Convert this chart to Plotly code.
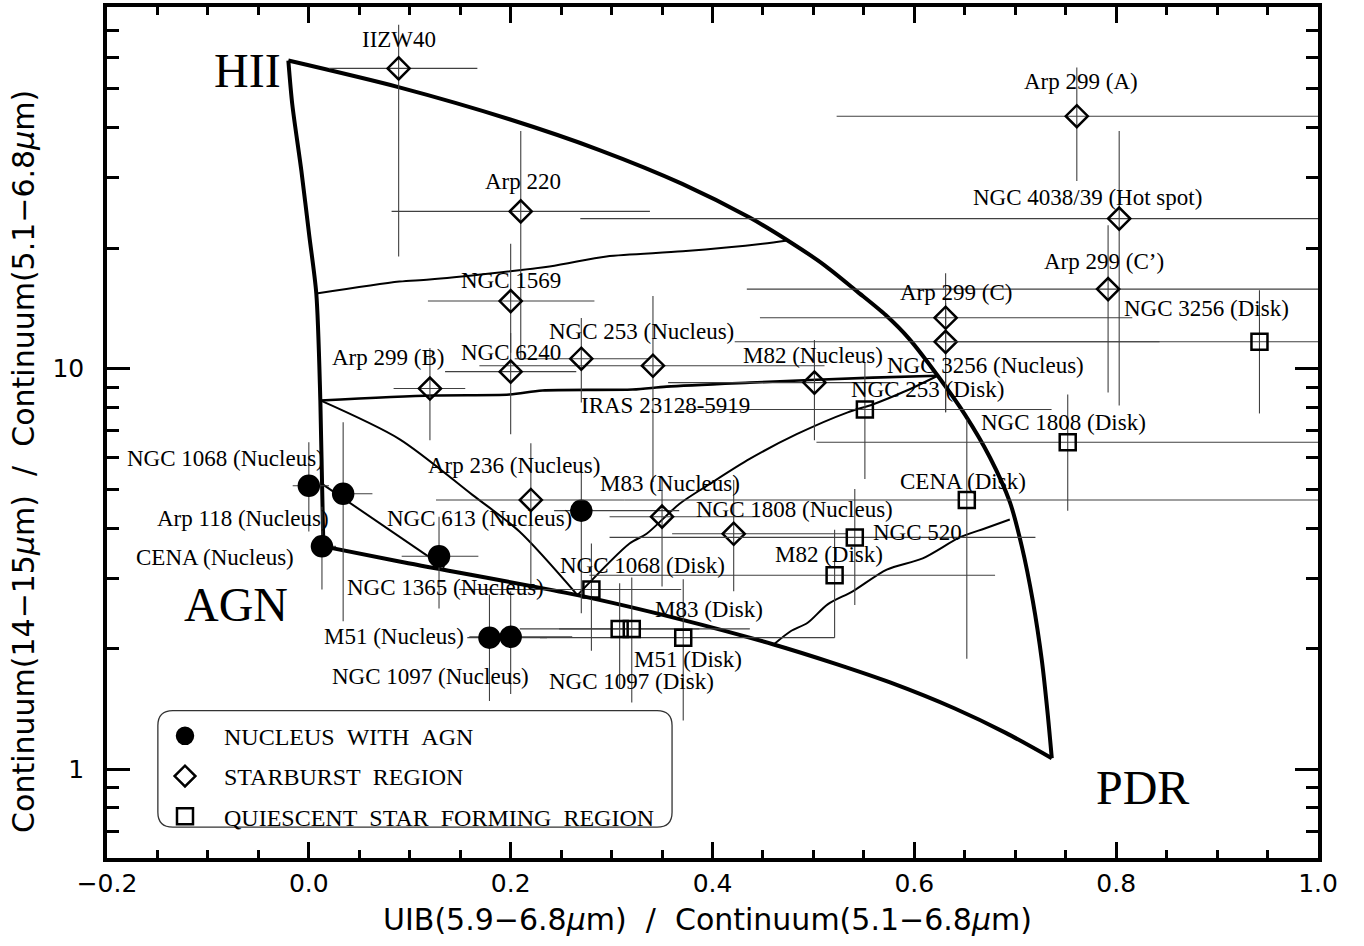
import numpy as np
import plotly.graph_objects as go

# ---------------- data ----------------
# Nuclei with AGN (filled circles)
agn_names = ["NGC 1068 (Nucleus)", "Arp 118 (Nucleus)", "CENA (Nucleus)", "NGC 1365 (Nucleus)",
             "NGC 613 (Nucleus)", "M51 (Nucleus)", "NGC 1097 (Nucleus)"]
agn_x = [0.000, 0.034, 0.013, 0.129, 0.270, 0.179, 0.200]
agn_y = [5.10, 4.87, 3.60, 3.40, 4.42, 2.13, 2.14]
agn_xlo = [-0.016, 0.023, 0.004, 0.092, 0.243, 0.157, 0.159]
agn_xhi = [0.020, 0.063, 0.027, 0.168, 0.367, 0.236, 0.261]
agn_ylo = [3.92, 2.34, 2.81, 2.52, 2.45, 1.48, 1.54]
agn_yhi = [6.55, 7.35, 4.52, 4.27, 5.68, 2.73, 2.78]

# Starburst regions (open diamonds)
sb_names = ["IIZW40", "Arp 220", "NGC 1569", "NGC 6240", "Arp 299 (B)", "NGC 253 (Nucleus)",
            "IRAS 23128-5919", "M82 (Nucleus)", "Arp 236 (Nucleus)", "M83 (Nucleus)",
            "NGC 1808 (Nucleus)", "Arp 299 (A)", "NGC 4038/39 (Hot spot)", "Arp 299 (C\u2019)",
            "Arp 299 (C)", "NGC 3256 (Nucleus)"]
sb_x = [0.089, 0.210, 0.200, 0.200, 0.120, 0.270, 0.341, 0.501, 0.220, 0.350, 0.421,
        0.761, 0.803, 0.792, 0.631, 0.631]
sb_y = [56.2, 24.7, 14.75, 9.83, 8.92, 10.59, 10.17, 9.23, 4.70, 4.27, 3.87,
        42.7, 23.7, 15.8, 13.4, 11.67]
sb_xlo = [0.020, 0.082, 0.118, 0.135, 0.084, 0.204, 0.169, 0.356, 0.126, 0.298, 0.360,
          0.523, 0.269, 0.434, 0.447, 0.422]
sb_xhi = [0.167, 0.338, 0.283, 0.265, 0.155, 0.337, 0.511, 0.576, 0.313, 0.447, 0.533,
          1.0, 1.0, 1.0, 0.816, 0.843]
sb_ylo = [19.07, 10.53, 10.96, 6.86, 6.63, 8.23, 5.21, 6.63, 2.89, 2.86, 2.78,
          29.4, 8.09, 8.72, 7.78, 7.78]
sb_yhi = [72.2, 39.2, 20.5, 12.28, 11.27, 13.39, 15.18, 11.8, 6.51, 5.36, 5.27,
          56.5, 39.2, 22.8, 17.3, 14.58]

# Quiescent star forming regions (open squares)
qs_names = ["NGC 3256 (Disk)", "NGC 253 (Disk)", "NGC 1808 (Disk)", "CENA (Disk)", "NGC 520",
            "M82 (Disk)", "NGC 1068 (Disk)", "M83 (Disk)", "NGC 1097 (Disk)", "M51 (Disk)"]
qs_x = [0.942, 0.551, 0.752, 0.652, 0.541, 0.521, 0.280, 0.308, 0.320, 0.371]
qs_y = [11.67, 7.91, 6.55, 4.70, 3.79, 3.05, 2.81, 2.24, 2.24, 2.13]
qs_xlo = [0.625, 0.367, 0.503, 0.313, 0.298, 0.278, 0.149, 0.209, 0.248, 0.229]
qs_xhi = [1.0, 0.736, 1.0, 1.0, 0.720, 0.680, 0.369, 0.437, 0.387, 0.521]
qs_ylo = [7.73, 5.30, 4.42, 1.886, 2.57, 2.13, 1.974, 1.589, 1.466, 1.323]
qs_yhi = [15.7, 10.35, 8.62, 7.47, 5.01, 3.96, 3.66, 2.91, 3.01, 2.98]

# Model diagram curves
hii_agn_x = [-0.0203, -0.0164, -0.0074, 0.0005, 0.0074, 0.0114, 0.0144]
hii_agn_y = [58.8, 45.7, 31.2, 21.4, 15.4, 8.33, 3.60]
hii_pdr_x = [-0.0203, 0.0897, 0.1988, 0.288, 0.370, 0.4368, 0.4745, 0.5111, 0.5429, 0.5716,
             0.5949, 0.6232, 0.650, 0.6748, 0.6946, 0.7065, 0.7174, 0.7264, 0.7323, 0.7362]
hii_pdr_y = [58.8, 50.4, 41.96, 35.15, 28.94, 23.84, 20.90, 18.12, 15.62, 13.61,
             11.87, 9.6, 7.69, 6.01, 4.65, 3.60, 2.63, 1.864, 1.361, 1.065]
agn_pdr_x = [0.0144, 0.0897, 0.2662, 0.3674, 0.4606, 0.5221, 0.5766, 0.6401, 0.6906, 0.7362]
agn_pdr_y = [3.60, 3.30, 2.72, 2.37, 2.048, 1.832, 1.644, 1.417, 1.232, 1.065]

upper_mix_x = [0.0074, 0.0897, 0.1195, 0.2385, 0.295, 0.3704, 0.4497, 0.4745]
upper_mix_y = [15.4, 16.5, 16.7, 18.0, 19.07, 19.63, 20.5, 20.9]
mid_mix_x = [0.0114, 0.1225, 0.1988, 0.2315, 0.3208, 0.3545, 0.4368, 0.5587, 0.6232]
mid_mix_y = [8.33, 8.57, 8.62, 8.82, 8.87, 9.02, 9.23, 9.50, 9.6]
diag_mix_x = [0.0114, 0.0897, 0.1621, 0.2087, 0.2662]
diag_mix_y = [8.33, 6.67, 4.84, 3.92, 2.72]
rise_mix_x = [0.2662, 0.3178, 0.3347, 0.3674, 0.3971, 0.4368, 0.4834, 0.534, 0.5587, 0.5925, 0.6232]
rise_mix_y = [2.72, 3.66, 3.87, 4.60, 5.15, 5.95, 6.86, 7.78, 8.14, 8.82, 9.6]
agn_mix_x = [0.0134, 0.1343]
agn_mix_y = [5.15, 3.19]
low_mix_x = [0.4606, 0.4774, 0.4943, 0.5141, 0.5389, 0.5727, 0.6083, 0.645, 0.6698, 0.6946]
low_mix_y = [2.048, 2.21, 2.32, 2.58, 2.78, 3.15, 3.36, 3.79, 3.99, 4.20]

# Region labels
region_names = ["HII", "AGN", "PDR"]
region_x = [-0.061, -0.072, 0.826]
region_y = [55.5, 2.57, 0.902]

# Axis ticks
x_tick_vals = [-0.2, 0.0, 0.2, 0.4, 0.6, 0.8, 1.0]
y_tick_vals = [1, 10]
y_minor_vals = [0.7, 0.8, 0.9, 2, 3, 4, 5, 6, 7, 8, 9, 20, 30, 40, 50, 60, 70]

# ---------------- styling (label offsets in px) ----------------
agn_off = [(-83, 27), (-100, -25), (-107, -11), (6, -31), (-102, -8), (-95, 1), (-80, -40)]
sb_off = [(0, 29), (2, 30), (0, 21), (0, 19), (-42, 31), (60, 27), (13, -40), (-1, 27),
          (-17, 34), (8, 33), (61, 24), (4, 35), (-32, 21), (-4, 28), (10, 25), (40, -24)]
qs_off = [(-53, 33), (63, 20), (-4, 20), (-4, 18), (63, 5), (-6, 21), (51, 24), (89, 19),
          (0, -53), (5, -22)]

SERIF = "Liberation Serif"
SANS = "DejaVu Sans"
ERR_COLOR = "#404040"

fig = go.Figure()

def add_curve(xs, ys, width):
    fig.add_trace(go.Scatter(x=xs, y=ys, mode="lines", showlegend=False, hoverinfo="skip",
                             line=dict(color="black", width=width, shape="spline", smoothing=0.8)))

add_curve(upper_mix_x, upper_mix_y, 2)
add_curve(mid_mix_x, mid_mix_y, 2.6)
add_curve(diag_mix_x, diag_mix_y, 2)
add_curve(rise_mix_x, rise_mix_y, 2)
add_curve(agn_mix_x, agn_mix_y, 2)
add_curve(low_mix_x, low_mix_y, 2)
add_curve(hii_agn_x, hii_agn_y, 4)
add_curve(hii_pdr_x, hii_pdr_y, 4)
add_curve(agn_pdr_x, agn_pdr_y, 4)


def add_points(name, xs, ys, xlo, xhi, ylo, yhi, symbol, size, group):
    xs_a = np.array(xs); ys_a = np.array(ys)
    fig.add_trace(go.Scatter(
        x=xs, y=ys, mode="markers", name=name, legendgroup=group,
        marker=dict(symbol=symbol, size=size, color="black", line=dict(width=2.5, color="black")),
        error_x=dict(type="data", symmetric=False, array=list(np.array(xhi) - xs_a),
                     arrayminus=list(xs_a - np.array(xlo)), width=0, thickness=1.1, color=ERR_COLOR),
        error_y=dict(type="data", symmetric=False, array=list(np.array(yhi) - ys_a),
                     arrayminus=list(ys_a - np.array(ylo)), width=0, thickness=1.1, color=ERR_COLOR),
    ))

add_points("NUCLEUS\u00a0\u00a0WITH\u00a0\u00a0AGN", agn_x, agn_y, agn_xlo, agn_xhi, agn_ylo, agn_yhi,
           "circle", 20, "g1")
add_points("STARBURST\u00a0\u00a0REGION", sb_x, sb_y, sb_xlo, sb_xhi, sb_ylo, sb_yhi,
           "diamond-open", 17, "g2")
add_points("QUIESCENT\u00a0\u00a0STAR\u00a0\u00a0FORMING\u00a0\u00a0REGION", qs_x, qs_y, qs_xlo, qs_xhi,
           qs_ylo, qs_yhi, "square-open", 16, "g3")

annotations = []
for names, xs, ys, offs in [(agn_names, agn_x, agn_y, agn_off),
                            (sb_names, sb_x, sb_y, sb_off),
                            (qs_names, qs_x, qs_y, qs_off)]:
    for n, xv, yv, (dx, dy) in zip(names, xs, ys, offs):
        annotations.append(dict(x=xv, y=np.log10(yv), xref="x", yref="y", text=n, showarrow=False,
                                xshift=dx, yshift=dy, xanchor="center", yanchor="middle",
                                font=dict(family=SERIF, size=23, color="black")))
for n, xv, yv in zip(region_names, region_x, region_y):
    annotations.append(dict(x=xv, y=np.log10(yv), xref="x", yref="y", text=n, showarrow=False,
                            xanchor="center", yanchor="middle",
                            font=dict(family=SERIF, size=48, color="black")))

# axis titles
annotations.append(dict(x=0.4955, y=-0.0725, xref="paper", yref="paper", showarrow=False,
                        xanchor="center", yanchor="middle",
                        text="UIB(5.9\u22126.8<i>\u03bc</i>m)\u00a0\u00a0/\u00a0\u00a0Continuum(5.1\u22126.8<i>\u03bc</i>m)",
                        font=dict(family=SANS, size=30, color="black")))
annotations.append(dict(x=-0.0685, y=0.4655, xref="paper", yref="paper", showarrow=False,
                        xanchor="center", yanchor="middle", textangle=-90,
                        text="Continuum(14\u221215<i>\u03bc</i>m)\u00a0\u00a0/\u00a0\u00a0Continuum(5.1\u22126.8<i>\u03bc</i>m)",
                        font=dict(family=SANS, size=30, color="black")))

# rounded legend frame (paper coords)
x0, x1, y0, y1 = 0.042, 0.4666, 0.0363, 0.1731
rx, ry = 15 / 1211, 15 / 855
path = (f"M {x0+rx},{y0} L {x1-rx},{y0} Q {x1},{y0} {x1},{y0+ry} L {x1},{y1-ry} "
        f"Q {x1},{y1} {x1-rx},{y1} L {x0+rx},{y1} Q {x0},{y1} {x0},{y1-ry} "
        f"L {x0},{y0+ry} Q {x0},{y0} {x0+rx},{y0} Z")

fig.update_layout(
    width=1364, height=946,
    margin=dict(l=107, r=46, t=3, b=88),
    paper_bgcolor="white", plot_bgcolor="white",
    showlegend=True,
    legend=dict(x=0.0322, y=0.1695, xanchor="left", yanchor="top", bgcolor="rgba(0,0,0,0)",
                borderwidth=0, font=dict(family=SERIF, size=24, color="black"),
                itemwidth=68, tracegroupgap=6, itemsizing="trace"),
    annotations=annotations,
    shapes=[dict(type="path", path=path, xref="paper", yref="paper",
                 line=dict(color="#333", width=1.3), fillcolor="rgba(0,0,0,0)")],
    xaxis=dict(range=[-0.2, 1.0], tickvals=x_tick_vals, tickformat=".1f",
               ticks="inside", ticklen=16, tickwidth=3, tickcolor="black",
               minor=dict(dtick=0.05, ticks="inside", ticklen=8, tickwidth=2.5, tickcolor="black",
                          showgrid=False),
               showline=True, linewidth=3.5, linecolor="black", mirror="ticks",
               showgrid=False, zeroline=False,
               tickfont=dict(family=SANS, size=25, color="black")),
    yaxis=dict(type="log", range=[np.log10(0.6), np.log10(80)], tickvals=y_tick_vals,
               ticktext=["1", "10"],
               ticks="inside", ticklen=23, tickwidth=3, tickcolor="black",
               minor=dict(tickvals=y_minor_vals, ticks="inside", ticklen=12, tickwidth=2.5,
                          tickcolor="black", showgrid=False),
               showline=True, linewidth=3.5, linecolor="black", mirror="ticks",
               showgrid=False, zeroline=False, ticklabelstandoff=14,
               tickfont=dict(family=SANS, size=25, color="black")),
)

fig.write_html("out.html")
